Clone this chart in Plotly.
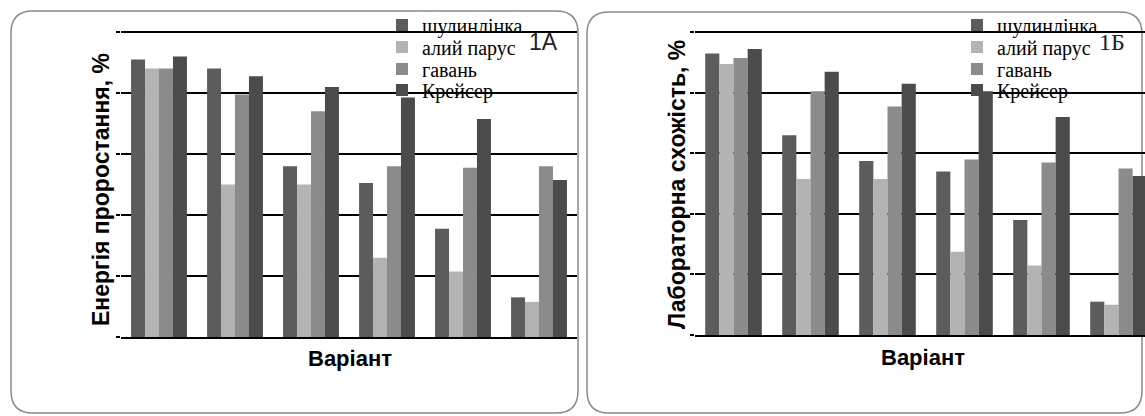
import plotly.graph_objects as go

W, H = 1145, 416

variants = ["1", "2", "3", "4", "5", "6"]
series_names = ["шулинлінка", "алий парус", "гавань", "Крейсер"]
colors = ["#5c5c5c", "#b3b3b3", "#8b8b8b", "#4b4b4b"]

# Panel 1А: Енергія проростання, %
energy_shul = [91, 88, 56, 50.5, 35.5, 13]
energy_aliy = [88, 50, 50, 26, 21.5, 11.5]
energy_gavan = [88, 79.5, 74, 56, 55.5, 56]
energy_kreyser = [92, 85.5, 82, 78.5, 71.5, 51.5]

# Panel 1Б: Лабораторна схожість, %
lab_shul = [93, 66, 57.5, 54, 38, 11]
lab_aliy = [89.5, 51.5, 51.5, 27.5, 23, 10]
lab_gavan = [91.5, 80.5, 75.5, 58, 57, 55]
lab_kreyser = [94.5, 87, 83, 80.5, 72, 52.5]

y_ticks = [0, 20, 40, 60, 80, 100]

def px_x(v):
    return v / W

def px_y(v):
    return 1 - v / H

fig = go.Figure()

left = [energy_shul, energy_aliy, energy_gavan, energy_kreyser]
right = [lab_shul, lab_aliy, lab_gavan, lab_kreyser]
xi = list(range(len(variants)))

def legend_id(n):
    return "legend" if n == 1 else f"legend{n}"

for i, (name, col, vals) in enumerate(zip(series_names, colors, left)):
    fig.add_trace(go.Bar(x=xi, y=vals, name=name, marker_color=col,
                         marker_line_width=0, xaxis="x", yaxis="y",
                         legend=legend_id(1 + i), offsetgroup=name, hoverinfo="y"))
for i, (name, col, vals) in enumerate(zip(series_names, colors, right)):
    fig.add_trace(go.Bar(x=xi, y=vals, name=name, marker_color=col,
                         marker_line_width=0, xaxis="x2", yaxis="y2",
                         legend=legend_id(5 + i), offsetgroup=name, hoverinfo="y"))

axis_common_y = dict(tickvals=y_ticks, showticklabels=False,
                     showgrid=True, gridcolor="#000000", gridwidth=1.6,
                     ticks="outside", ticklen=4, tickcolor="#000000", tickwidth=1.5,
                     showline=False, zeroline=False, fixedrange=True)
axis_common_x = dict(showticklabels=False, showgrid=False, zeroline=False,
                     showline=True, linecolor="#000000", linewidth=1.6,
                     ticks="", fixedrange=True)

# right panel is cut by the picture edge: category width ~77px from 695px
right_span = (W - 695) / 77.0

legend_font = dict(family="Liberation Serif", size=20, color="#000000")
row_y = [25, 47, 69, 90]

legends = {}
for i, ry in enumerate(row_y):
    for base, lx in ((1, 382), (5, 957)):
        legends[legend_id(base + i)] = dict(
            x=px_x(lx), y=px_y(ry), xanchor="left", yanchor="middle",
            bgcolor="rgba(0,0,0,0)", borderwidth=0, font=legend_font,
            itemwidth=30, tracegroupgap=0)

fig.update_layout(
    width=W, height=H,
    margin=dict(l=0, r=0, t=0, b=0),
    paper_bgcolor="#ffffff", plot_bgcolor="rgba(0,0,0,0)",
    barmode="group", bargap=0.265, bargroupgap=0.0,
    xaxis=dict(domain=[px_x(121), px_x(577)], range=[-0.5, 5.5], anchor="y", **axis_common_x),
    yaxis=dict(domain=[px_y(337), px_y(337 - 3.05 * 101)], range=[0, 101], anchor="x", **axis_common_y),
    xaxis2=dict(domain=[px_x(695), 1.0], range=[-0.5, -0.5 + right_span], anchor="y2", **axis_common_x),
    yaxis2=dict(domain=[px_y(335), px_y(335 - 3.027 * 101)], range=[0, 101], anchor="x2", **axis_common_y),
    showlegend=True,
    **legends,
)

def rounded_box(x0, y0, x1, y1, r):
    X0, X1 = px_x(x0), px_x(x1)
    Y0, Y1 = px_y(y0), px_y(y1)
    rx, ry = r / W, r / H
    return (f"M {X0+rx},{Y0} L {X1-rx},{Y0} Q {X1},{Y0} {X1},{Y0-ry} "
            f"L {X1},{Y1+ry} Q {X1},{Y1} {X1-rx},{Y1} "
            f"L {X0+rx},{Y1} Q {X0},{Y1} {X0},{Y1+ry} "
            f"L {X0},{Y0-ry} Q {X0},{Y0} {X0+rx},{Y0} Z")

fig.add_shape(type="path", path=rounded_box(11, 11, 578, 413, 22), xref="paper", yref="paper",
              line=dict(color="#8a8a8a", width=1.5), layer="below")
fig.add_shape(type="path", path=rounded_box(587, 12, 1142, 413, 22), xref="paper", yref="paper",
              line=dict(color="#8a8a8a", width=1.5), layer="below")

title_font_y = dict(family="Liberation Sans", size=23, color="#000000")
title_font_x = dict(family="Liberation Sans", size=22, color="#000000")
fig.add_annotation(text="<b>Енергія проростання, %</b>", x=px_x(101), y=px_y(190),
                   xref="paper", yref="paper", textangle=-90, showarrow=False,
                   font=title_font_y, xanchor="center", yanchor="middle")
fig.add_annotation(text="<b>Лабораторна схожість, %</b>", x=px_x(677), y=px_y(185),
                   xref="paper", yref="paper", textangle=-90, showarrow=False,
                   font=title_font_y, xanchor="center", yanchor="middle")
fig.add_annotation(text="<b>Варіант</b>", x=px_x(350), y=px_y(358),
                   xref="paper", yref="paper", showarrow=False,
                   font=title_font_x, xanchor="center", yanchor="middle")
fig.add_annotation(text="<b>Варіант</b>", x=px_x(923), y=px_y(357),
                   xref="paper", yref="paper", showarrow=False,
                   font=title_font_x, xanchor="center", yanchor="middle")
fig.add_annotation(text="1А", x=px_x(543), y=px_y(42), xref="paper", yref="paper",
                   showarrow=False, font=dict(family="Liberation Sans", size=23, color="#222222"),
                   xanchor="center", yanchor="middle")
fig.add_annotation(text="1Б", x=px_x(1112), y=px_y(42), xref="paper", yref="paper",
                   showarrow=False, font=dict(family="Liberation Serif", size=24, color="#222222"),
                   xanchor="center", yanchor="middle")

fig.write_html("out.html", config={"displayModeBar": False},
               post_script="document.body.style.margin='0';")
